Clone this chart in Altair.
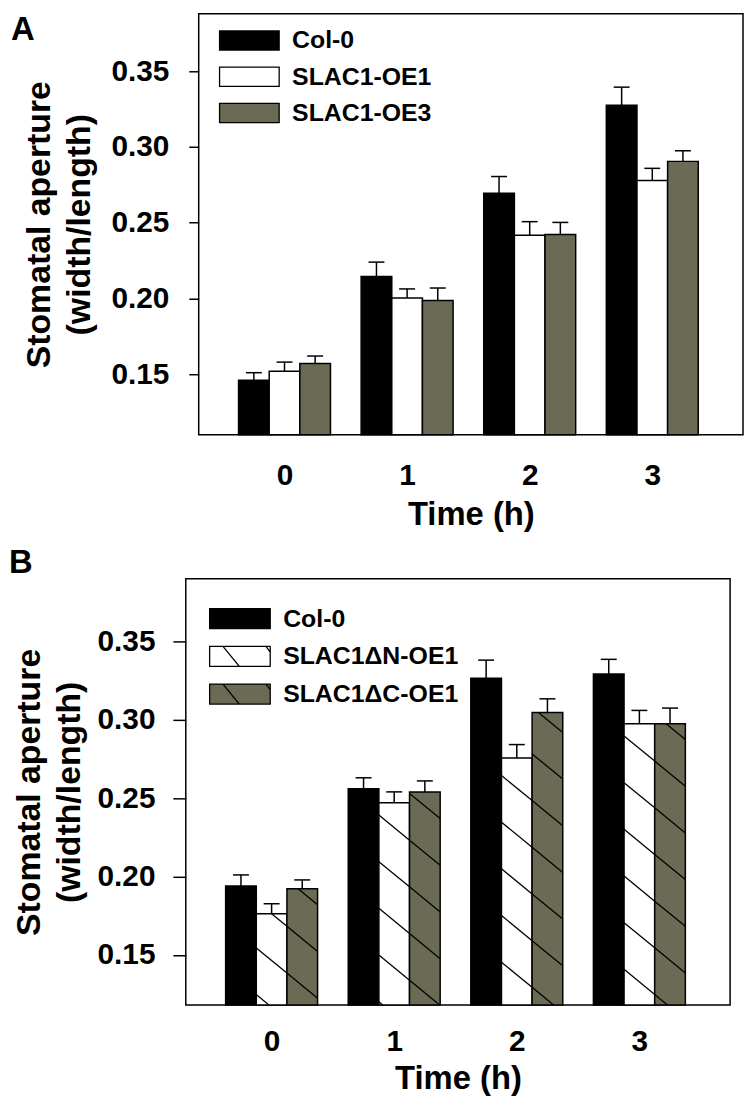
import altair as alt
import pandas as pd
import math

FONT = "Liberation Sans"

# ---------------- data ----------------
times = [0, 1, 2, 3]
tick_values_y = [0.15, 0.20, 0.25, 0.30, 0.35]

series_a = ["Col-0", "SLAC1-OE1", "SLAC1-OE3"]
a_col0 = [0.146, 0.2145, 0.2695, 0.3275]
a_col0_err = [0.005, 0.0095, 0.011, 0.012]
a_oe1 = [0.152, 0.2003, 0.2417, 0.2779]
a_oe1_err = [0.006, 0.006, 0.009, 0.008]
a_oe3 = [0.157, 0.1986, 0.2422, 0.2905]
a_oe3_err = [0.005, 0.0083, 0.008, 0.007]

series_b = ["Col-0", "SLAC1\u0394N-OE1", "SLAC1\u0394C-OE1"]
b_col0 = [0.194, 0.256, 0.3265, 0.3292]
b_col0_err = [0.007, 0.007, 0.0116, 0.0094]
b_dn = [0.1762, 0.247, 0.2757, 0.2975]
b_dn_err = [0.0064, 0.007, 0.0085, 0.0085]
b_dc = [0.1921, 0.254, 0.3047, 0.2975]
b_dc_err = [0.0057, 0.007, 0.0087, 0.010]

colors = ["#000000", "#ffffff", "#6b6b55"]

# ---------------- layout / style ----------------
offsets = [-0.25, 0.0, 0.25]
BAR_W = 0.25
CAP_HALF = 0.065
X_DOMAIN = [-0.7, 3.74]
PLOT_W = 548
UX = PLOT_W / (X_DOMAIN[1] - X_DOMAIN[0])
HATCH_SLOPE = 0.82      # px down per px right
HATCH_SPACING = 47.0    # vertical px between hatch lines

RECT_A = "M-1,-0.32H1V0.32H-1Z"
RECT_B = "M-1,-0.33H1V0.33H-1Z"
RECT_B_HATCH = "M-1,-0.33H1V0.33H-1Z M-0.56,-0.33L-0.02,0.33 M0.86,-0.33L1,-0.14"


def build_panel(letter, series, means, errs, ydom, height, hatched, shapes,
                leg_rows, leg_cx, leg_size, leg_tx, letter_x, letter_y,
                tick_size, label_pad, title_pad, xlab_pad, xtitle_pad, shift):
    # shift: extra pixels of plot area on the left of the drawn frame
    rows = []
    for si, s in enumerate(series):
        for ti, t in enumerate(times):
            xc = t + offsets[si]
            v = means[si][ti]
            rows.append(dict(series=s, xc=xc, xl=xc - BAR_W / 2, xr=xc + BAR_W / 2,
                             value=v, top=v + errs[si][ti], base=ydom[0],
                             capl=xc - CAP_HALF, capr=xc + CAP_HALF))
    df = pd.DataFrame(rows)

    xdom = [X_DOMAIN[0] - shift / UX, X_DOMAIN[1]]
    width = PLOT_W + shift
    xscale = alt.Scale(domain=xdom, nice=False, zero=False)
    yscale = alt.Scale(domain=ydom, nice=False, zero=False)
    fill_scale = alt.Scale(domain=series, range=colors)

    xaxis_kw = dict(values=times, format="d", title="Time (h)", ticks=False, tickSize=0,
                    domain=False, grid=False, labelFontSize=30, titleFontSize=33,
                    labelPadding=xlab_pad, titlePadding=xtitle_pad, labelFlush=False)
    if shift:
        xaxis_kw.update(titleX=shift + PLOT_W / 2, titleAlign="center")
    xaxis = alt.Axis(**xaxis_kw)
    yaxis_kw = dict(values=tick_values_y, format=".2f",
                    title=["Stomatal aperture", "(width/length)"],
                    tickSize=tick_size, tickWidth=1.5, tickColor="black",
                    domain=False, grid=False, labelFontSize=30, titleFontSize=34,
                    labelPadding=label_pad, titlePadding=title_pad, titleLineHeight=40)
    if shift:
        yaxis_kw.update(offset=-shift)
    yaxis = alt.Axis(**yaxis_kw)

    base = alt.Chart(df)
    bars = base.mark_bar(stroke="black", strokeWidth=1.5).encode(
        x=alt.X("xl:Q", scale=xscale, axis=xaxis),
        x2="xr:Q",
        y=alt.Y("value:Q", scale=yscale, axis=yaxis),
        y2="base:Q",
        fill=alt.Fill("series:N", scale=fill_scale, legend=None),
    )
    err = base.mark_rule(color="black", strokeWidth=1.5).encode(
        x=alt.X("xc:Q", scale=xscale, axis=xaxis),
        y=alt.Y("value:Q", scale=yscale, axis=yaxis),
        y2="top:Q",
    )
    cap = base.mark_rule(color="black", strokeWidth=1.5).encode(
        x=alt.X("capl:Q", scale=xscale, axis=xaxis),
        x2="capr:Q",
        y=alt.Y("top:Q", scale=yscale, axis=yaxis),
    )
    layers = [bars]

    if hatched:
        uy = height / (ydom[1] - ydom[0])
        m = HATCH_SLOPE * UX / uy
        dS = HATCH_SPACING / uy
        b0 = (0.2975 - 12.3 / uy) + m * 2.875
        segs = []
        for si in hatched:
            for ti, t in enumerate(times):
                xc = t + offsets[si]
                xl, xr = xc - BAR_W / 2, xc + BAR_W / 2
                ybot, ytop = ydom[0], means[si][ti]
                kmin = math.floor((ybot + m * xl - b0) / dS) - 1
                kmax = math.ceil((ytop + m * xr - b0) / dS) + 1
                for k in range(kmin, kmax + 1):
                    b = b0 + k * dS
                    x0 = max(xl, (b - ytop) / m)
                    x1 = min(xr, (b - ybot) / m)
                    if x1 > x0 + 1e-4:
                        segs.append(dict(hx=x0, hy=b - m * x0, hx2=x1, hy2=b - m * x1))
        hdf = pd.DataFrame(segs)
        hatch = alt.Chart(hdf).mark_rule(color="black", strokeWidth=1.3).encode(
            x=alt.X("hx:Q", scale=xscale, axis=xaxis),
            x2="hx2:Q",
            y=alt.Y("hy:Q", scale=yscale, axis=yaxis),
            y2="hy2:Q",
        )
        layers.append(hatch)

    layers += [err, cap]

    if shift:
        frame = alt.Chart(pd.DataFrame({"f": [0]})).mark_rect(
            filled=False, stroke="black", strokeWidth=1.5
        ).encode(
            x=alt.X(datum=X_DOMAIN[0], type="quantitative", scale=xscale, axis=xaxis),
            x2=alt.datum(X_DOMAIN[1]),
            y=alt.Y(datum=ydom[0], type="quantitative", scale=yscale, axis=yaxis),
            y2=alt.datum(ydom[1]),
        )
        layers.append(frame)

    letter_layer = alt.Chart(pd.DataFrame({"t": [letter]})).mark_text(
        align="left", baseline="alphabetic", fontSize=33, fontWeight="bold",
        font=FONT, color="black"
    ).encode(x=alt.value(letter_x), y=alt.value(letter_y), text="t:N")
    layers.append(letter_layer)

    inner = alt.layer(*layers)

    ldf = pd.DataFrame({"series": series})
    lscale = alt.Scale(type="point", domain=series, range=leg_rows, padding=0)
    leg_sym = alt.Chart(ldf).mark_point(
        filled=True, size=leg_size, stroke="black", strokeWidth=1.3, opacity=1
    ).encode(
        x=alt.value(leg_cx + shift),
        y=alt.Y("series:N", scale=lscale, axis=None),
        fill=alt.Fill("series:N", scale=fill_scale, legend=None),
        shape=alt.Shape("series:N", scale=alt.Scale(domain=series, range=shapes), legend=None),
    )
    leg_txt = alt.Chart(ldf).mark_text(
        align="left", baseline="middle", fontSize=25, fontWeight="bold",
        font=FONT, color="black"
    ).encode(
        x=alt.value(leg_tx + shift),
        y=alt.Y("series:N", scale=lscale, axis=None),
        text="series:N",
    )
    legend = alt.layer(leg_sym, leg_txt)

    props = dict(width=width, height=height)
    if shift:
        props["view"] = alt.ViewBackground(stroke="transparent", strokeWidth=0)
    return alt.layer(inner, legend).resolve_scale(y="independent").properties(**props)


panel_a = build_panel(
    "A", series_a,
    [a_col0, a_oe1, a_oe3], [a_col0_err, a_oe1_err, a_oe3_err],
    [0.11, 0.388], 424, None, [RECT_A, RECT_A, RECT_A],
    [27, 100], 51, 3600, 94, -176, 27,
    10, 20, 15, 26, 8, 13,
)

panel_b = build_panel(
    "B", series_b,
    [b_col0, b_dn, b_dc], [b_col0_err, b_dn_err, b_dc_err],
    [0.118, 0.39], 429, [1, 2], [RECT_B, RECT_B_HATCH, RECT_B_HATCH],
    [40, 116], 54.5, 3721, 98, -178, -6,
    13, 18, 11, 22, 6, 0,
)

chart = alt.vconcat(panel_a, panel_b, spacing=15).resolve_scale(
    fill="independent", shape="independent", x="independent", y="independent"
).properties(
    padding={"left": 0, "top": 1, "right": 0, "bottom": 0}
).configure_view(
    stroke="black", strokeWidth=1.5
).configure_axis(
    labelFont=FONT, titleFont=FONT, labelFontWeight="bold", titleFontWeight="bold",
    labelColor="black", titleColor="black"
)

chart.save("out.html", embed_options={"renderer": "svg", "actions": False})
